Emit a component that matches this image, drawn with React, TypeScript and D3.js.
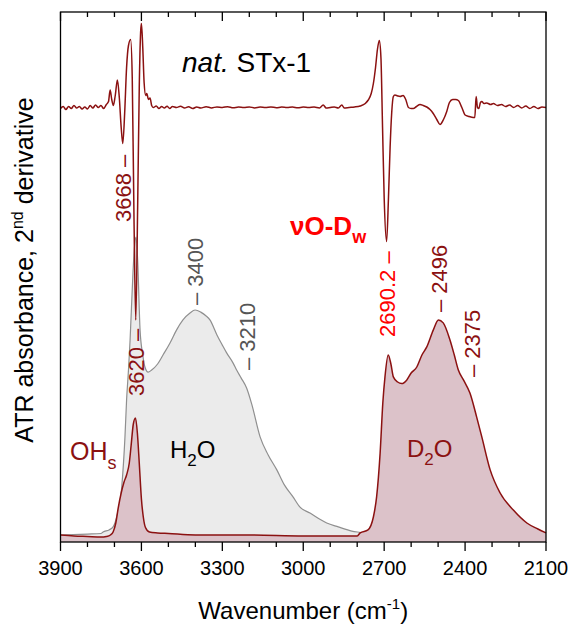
import React from 'react';
import * as d3 from 'd3';

// ---------- data ----------
const xTickMajor = [3900, 3600, 3300, 3000, 2700, 2400, 2100];
const xTickMinor = [3800, 3700, 3500, 3400, 3200, 3100, 2900, 2800, 2600, 2500, 2300, 2200];

// H2O (grey) ATR spectrum
const h2oWn = [3900, 3800, 3750, 3742, 3720, 3705, 3690, 3673, 3661, 3655, 3648, 3642, 3631, 3625, 3620, 3614, 3605, 3595, 3587, 3575, 3562, 3540, 3520, 3494, 3470, 3446, 3420, 3401, 3380, 3360, 3346, 3320, 3300, 3284, 3260, 3247, 3230, 3210, 3190, 3160, 3130, 3098, 3070, 3038, 3012, 2975, 2940, 2913, 2870, 2820, 2778, 2750];
const h2oAbs = [0.0, 0.003, 0.005, 0.01, 0.017, 0.027, 0.067, 0.16, 0.327, 0.45, 0.55, 0.65, 0.88, 0.967, 0.993, 0.917, 0.683, 0.6, 0.56, 0.543, 0.55, 0.57, 0.6, 0.64, 0.683, 0.717, 0.74, 0.75, 0.743, 0.73, 0.717, 0.667, 0.633, 0.607, 0.573, 0.55, 0.523, 0.49, 0.433, 0.327, 0.267, 0.217, 0.167, 0.127, 0.093, 0.073, 0.053, 0.04, 0.027, 0.013, 0.007, 0.0];

// nat. STx-1 spectrum (OHs + D2O)
const specWn = [3900, 3850, 3800, 3750, 3730, 3715, 3705, 3695, 3686, 3675, 3665, 3655, 3645, 3638, 3630, 3622, 3615, 3608, 3600, 3593, 3585, 3570, 3540, 3500, 3400, 3200, 3000, 2850, 2800, 2789, 2760, 2740, 2728, 2715, 2705, 2697, 2685, 2675, 2666, 2650, 2635, 2616, 2600, 2579, 2560, 2542, 2518, 2499, 2481, 2456, 2440, 2425, 2406, 2382, 2357, 2338, 2307, 2270, 2221, 2171, 2130, 2100];
const specAbs = [0.0, -0.003, -0.005, -0.007, -0.005, 0.0, 0.01, 0.04, 0.09, 0.14, 0.175, 0.2, 0.24, 0.3, 0.37, 0.39, 0.34, 0.24, 0.12, 0.06, 0.025, 0.01, 0.007, 0.005, 0.0, 0.0, -0.003, -0.003, -0.003, 0.007, 0.017, 0.06, 0.127, 0.273, 0.44, 0.527, 0.6, 0.57, 0.527, 0.51, 0.505, 0.517, 0.54, 0.56, 0.6, 0.627, 0.683, 0.717, 0.707, 0.65, 0.6, 0.55, 0.517, 0.473, 0.393, 0.327, 0.217, 0.14, 0.083, 0.04, 0.02, 0.007];

// 2nd derivative
const derWn = [3900, 3890, 3880, 3870, 3860, 3850, 3840, 3830, 3820, 3810, 3800, 3790, 3780, 3770, 3760, 3750, 3740, 3730, 3722, 3716, 3710, 3704, 3697, 3689, 3682, 3675, 3669, 3662, 3655, 3648, 3640, 3634, 3628, 3621, 3614, 3608, 3603, 3600, 3595, 3590, 3584, 3580, 3574, 3568, 3562, 3556, 3545, 3535, 3525, 3515, 3505, 3495, 3485, 3470, 3455, 3440, 3425, 3410, 3395, 3380, 3360, 3340, 3320, 3300, 3280, 3260, 3240, 3220, 3200, 3180, 3160, 3140, 3120, 3100, 3080, 3060, 3040, 3020, 3000, 2980, 2960, 2940, 2926, 2915, 2900, 2885, 2870, 2857, 2848, 2830, 2810, 2789, 2770, 2759, 2748, 2740, 2732, 2725, 2718, 2712, 2706, 2700, 2691, 2684, 2678, 2672, 2666, 2660, 2650, 2641, 2630, 2620, 2610, 2600, 2592, 2580, 2567, 2555, 2542, 2530, 2518, 2505, 2493, 2480, 2468, 2458, 2446, 2435, 2425, 2412, 2400, 2385, 2370, 2364, 2359, 2354, 2349, 2343, 2338, 2330, 2320, 2305, 2295, 2280, 2265, 2250, 2235, 2220, 2205, 2190, 2175, 2160, 2145, 2130, 2115, 2100];
const derVal = [-0.01, 0.01, -0.02, 0.01, -0.01, 0.02, -0.005, 0.01, -0.015, 0.005, -0.015, 0.02, -0.005, 0.025, 0.0, 0.02, -0.01, 0.03, 0.06, 0.175, 0.08, 0.02, 0.12, 0.275, 0.1, -0.2, -0.36, -0.05, 0.4, 0.62, 0.68, 0.3, -1.0, -2.125, -1.0, 0.2, 0.75, 0.84, 0.6, 0.25, 0.12, 0.14, 0.08, 0.095, 0.02, 0.0, 0.015, -0.01, 0.01, -0.005, 0.012, -0.01, 0.01, 0.0, 0.012, -0.005, 0.008, -0.01, 0.005, -0.005, 0.008, -0.004, 0.006, 0.0, 0.008, -0.003, 0.005, 0.0, 0.006, -0.004, 0.004, 0.0, 0.006, -0.003, 0.004, 0.0, 0.005, -0.003, 0.004, 0.0, 0.005, -0.004, 0.025, -0.005, 0.0, 0.005, -0.005, 0.025, -0.005, 0.0, 0.005, 0.015, 0.04, 0.075, 0.14, 0.24, 0.4, 0.58, 0.67, 0.5, -0.2, -0.9, -1.34, -0.9, -0.4, -0.05, 0.11, 0.125, 0.115, 0.11, 0.12, 0.08, 0.0, -0.01, -0.01, 0.01, 0.03, 0.02, 0.005, -0.02, -0.06, -0.12, -0.17, -0.12, -0.04, 0.05, 0.08, 0.08, 0.07, 0.0, -0.075, -0.09, -0.1, -0.1, 0.11, 0.0, -0.01, 0.05, 0.06, 0.04, 0.045, 0.03, 0.04, 0.02, 0.03, 0.01, 0.025, 0.0, 0.02, -0.005, 0.015, -0.01, 0.01, -0.01, 0.005, 0.0];

// peak annotations
const peakLabels = [
  { wn: 3668, text: '3668 \u2013', color: '#8b1111', y0: 222 },
  { wn: 3620, text: '3620 \u2013', color: '#8b1111', y0: 396 },
  { wn: 3400, text: '\u2013 3400', color: '#555555', y0: 305 },
  { wn: 3210, text: '\u2013 3210', color: '#555555', y0: 370 },
  { wn: 2690.2, text: '2690.2 \u2013', color: '#ff0000', y0: 337 },
  { wn: 2496, text: '\u2013 2496', color: '#8b1111', y0: 312 },
  { wn: 2375, text: '\u2013 2375', color: '#8b1111', y0: 377 },
];

const W = 572;
const H = 626;
const M = { left: 60.5, right: 26, top: 12, bottom: 84 };
const FONT = '"Liberation Sans", Arial, Helvetica, sans-serif';
const DARKRED = '#8b1111';

export default function App() {
  const x = d3.scaleLinear().domain([3900, 2100]).range([M.left, W - M.right]);
  const yAbs = d3.scaleLinear().domain([0, 1]).range([535, 235]);
  const yDer = d3.scaleLinear().domain([0, 1]).range([107.5, 7.5]);
  const bottom = H - M.bottom;

  const h2o = h2oWn.map((w, i) => [w, h2oAbs[i]] as [number, number]);
  const spec = specWn.map((w, i) => [w, specAbs[i]] as [number, number]);
  const der = derWn.map((w, i) => [w, derVal[i]] as [number, number]);

  const lineAbs = d3.line<[number, number]>().x(d => x(d[0])).y(d => yAbs(d[1])).curve(d3.curveMonotoneX);
  const areaAbs = d3.area<[number, number]>().x(d => x(d[0])).y0(bottom).y1(d => yAbs(d[1])).curve(d3.curveMonotoneX);
  const lineDer = d3.line<[number, number]>().x(d => x(d[0])).y(d => yDer(d[1])).curve(d3.curveMonotoneX);

  const majorLen = 9;
  const minorLen = 5;

  return (
    <svg width={W} height={H} style={{ position: 'absolute', left: 0, top: 0, display: 'block', background: '#fff' }} fontFamily={FONT}>
      {/* H2O grey */}
      <path d={areaAbs(h2o) || ''} fill="#ebebeb" stroke="none" />
      <path d={lineAbs(h2o) || ''} fill="none" stroke="#8f8f8f" strokeWidth={1.2} />
      {/* sample spectrum */}
      <path d={areaAbs(spec) || ''} fill="#dcc2c9" stroke="none" />
      <path d={lineAbs(spec) || ''} fill="none" stroke={DARKRED} strokeWidth={1.5} />
      {/* derivative */}
      <path d={lineDer(der) || ''} fill="none" stroke={DARKRED} strokeWidth={1.5} />

      {/* frame */}
      <rect x={M.left} y={M.top} width={W - M.left - M.right} height={bottom - M.top} fill="none" stroke="#000" strokeWidth={1.3} />
      {/* ticks */}
      {xTickMajor.map(t => (
        <g key={'M' + t}>
          <line x1={x(t)} x2={x(t)} y1={bottom} y2={bottom + majorLen} stroke="#000" strokeWidth={1.3} />
          <line x1={x(t)} x2={x(t)} y1={M.top} y2={M.top + majorLen} stroke="#000" strokeWidth={1.3} />
          <text x={x(t)} y={575} fontSize={20} textAnchor="middle" fill="#000">{t}</text>
        </g>
      ))}
      {xTickMinor.map(t => (
        <g key={'m' + t}>
          <line x1={x(t)} x2={x(t)} y1={bottom} y2={bottom + minorLen} stroke="#000" strokeWidth={1.3} />
          <line x1={x(t)} x2={x(t)} y1={M.top} y2={M.top + minorLen} stroke="#000" strokeWidth={1.3} />
        </g>
      ))}

      {/* axis titles */}
      <text x={(M.left + W - M.right) / 2} y={619} fontSize={24} textAnchor="middle" fill="#000">
        Wavenumber (cm<tspan fontSize={15} dy={-10}>-1</tspan><tspan dy={10}>)</tspan>
      </text>
      <text transform={`translate(33,270) rotate(-90)`} fontSize={25} textAnchor="middle" fill="#000">
        ATR absorbance, 2<tspan fontSize={16} dy={-10}>nd</tspan><tspan dy={10}> derivative</tspan>
      </text>

      {/* sample name */}
      <text x={182} y={72} fontSize={28} fill="#000">
        <tspan fontStyle="italic">nat.</tspan> STx-1
      </text>

      {/* peak labels */}
      {peakLabels.map(p => (
        <text key={p.text} transform={`translate(${x(p.wn) + 8},${p.y0}) rotate(-90)`} fontSize={22} fill={p.color} textAnchor="start">
          {p.text}
        </text>
      ))}

      {/* band labels */}
      <text x={290} y={235} fontSize={26} fontWeight="bold" fill="#ff0000">
        νO-D<tspan fontSize={18} dy={8}>w</tspan>
      </text>
      <text x={70} y={460} fontSize={25} fill={DARKRED}>
        OH<tspan fontSize={18} dy={9}>s</tspan>
      </text>
      <text x={170} y={458} fontSize={24} fill="#000">
        H<tspan fontSize={17} dy={8}>2</tspan><tspan dy={-8}>O</tspan>
      </text>
      <text x={407} y={457} fontSize={24} fill={DARKRED}>
        D<tspan fontSize={17} dy={8}>2</tspan><tspan dy={-8}>O</tspan>
      </text>
    </svg>
  );
}
